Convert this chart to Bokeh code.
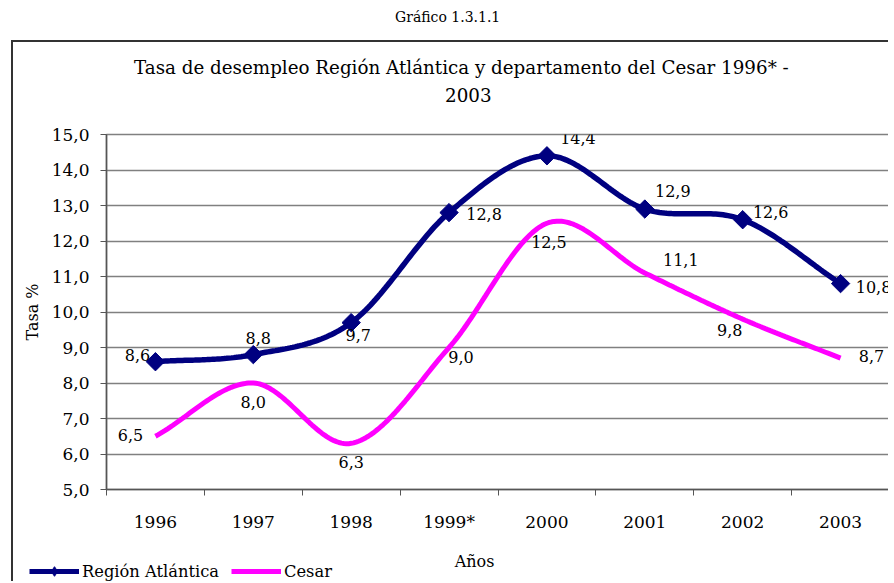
import math
import numpy as np
from bokeh.plotting import figure
from bokeh.models import (FixedTicker, Legend, LegendItem, ColumnDataSource, Div, Label)
from bokeh.layouts import column
from bokeh.core.properties import value
from bokeh.embed import file_html
from bokeh.resources import INLINE

# ---- data ----
years = ["1996", "1997", "1998", "1999*", "2000", "2001", "2002", "2003"]
region_atlantica = [8.6, 8.8, 9.7, 12.8, 14.4, 12.9, 12.6, 10.8]
cesar = [6.5, 8.0, 6.3, 9.0, 12.5, 11.1, 9.8, 8.7]
y_ticks = [5, 6, 7, 8, 9, 10, 11, 12, 13, 14, 15]
series_names = ["Región Atlántica", "Cesar"]
title_lines = ["Tasa de desempleo Región Atlántica y departamento del Cesar 1996* -", "2003"]

# label offsets (pixels) for the data labels
atl_dx = [-18, 5, 7, 35, 31, 28, 28, 33]
atl_dy = [-7, -17, 12, 1, -18, -18, -8, 3]
ces_dx = [-25, 0, 0, 12, 2, 36, -13, 31]
ces_dy = [-1, 19, 19, 9, 19, -13, 11, -2]

FONT = "DejaVu Serif"
NAVY = "#000080"
MAG = "#FF00FF"
BORDER = "2px solid #333333"
W = 877


def smooth(vals, n=40):
    y = np.asarray(vals, dtype=float)
    k = len(y)
    m = np.empty(k)
    m[1:-1] = (y[2:] - y[:-2]) / 2.0
    m[0] = y[1] - y[0]
    m[-1] = y[-1] - y[-2]
    xs, ys = [], []
    for i in range(k - 1):
        t = np.linspace(0, 1, n, endpoint=(i == k - 2))
        h00 = 2 * t**3 - 3 * t**2 + 1
        h10 = t**3 - 2 * t**2 + t
        h01 = -2 * t**3 + 3 * t**2
        h11 = t**3 - t**2
        xs.append(i + t)
        ys.append(h00 * y[i] + h10 * m[i] + h01 * y[i + 1] + h11 * m[i + 1])
    return np.concatenate(xs), np.concatenate(ys)


def fmt(v):
    return f"{v:.1f}".replace(".", ",")


def no_frame_align(fig):
    if "frame_align" in fig.properties():
        fig.frame_align = False


x_idx = list(range(len(years)))

# ---------------- main chart ----------------
p = figure(width=W, height=422, x_range=(-0.5, 7.5), y_range=(5, 15),
           output_backend="svg", toolbar_location=None,
           min_border_left=93, min_border_right=1, min_border_top=22,
           min_border_bottom=42)
p.styles = {"border-left": BORDER}
no_frame_align(p)

p.outline_line_color = "#808080"
p.outline_line_width = 1.5
p.background_fill_color = "white"
p.border_fill_color = "white"

p.xgrid.grid_line_color = None
p.ygrid.ticker = FixedTicker(ticks=y_ticks)
p.ygrid.grid_line_color = "#808080"
p.ygrid.grid_line_width = 1.5

p.yaxis.ticker = FixedTicker(ticks=y_ticks)
p.yaxis.major_label_overrides = {t: fmt(t) for t in y_ticks}
p.yaxis.axis_label = "Tasa %"
p.yaxis.axis_label_text_font = FONT
p.yaxis.axis_label_text_font_style = "normal"
p.yaxis.axis_label_text_font_size = "16px"
p.yaxis.axis_label_text_color = "black"
p.yaxis.axis_label_standoff = 7
p.yaxis.major_label_text_font = FONT
p.yaxis.major_label_text_font_size = "17px"
p.yaxis.major_label_text_color = "black"
p.yaxis.major_label_standoff = 11
p.yaxis.major_tick_out = 6
p.yaxis.major_tick_in = 0
p.yaxis.minor_tick_line_color = None
p.yaxis.axis_line_color = "#555555"
p.yaxis.axis_line_width = 1.5
p.yaxis.major_tick_line_color = "#555555"

p.xaxis.ticker = FixedTicker(ticks=x_idx, minor_ticks=[i - 0.5 for i in range(len(years) + 1)])
p.xaxis.major_label_overrides = {i: y for i, y in enumerate(years)}
p.xaxis.major_tick_out = 0
p.xaxis.major_tick_in = 0
p.xaxis.minor_tick_out = 6
p.xaxis.minor_tick_in = 0
p.xaxis.minor_tick_line_color = "#555555"
p.xaxis.axis_line_color = "#555555"
p.xaxis.axis_line_width = 1.5
p.xaxis.major_label_text_font = FONT
p.xaxis.major_label_text_font_size = "17px"
p.xaxis.major_label_text_color = "black"
p.xaxis.major_label_standoff = 16

cx, cy = smooth(cesar)
ax, ay = smooth(region_atlantica)
p.line(cx, cy, line_color=MAG, line_width=5)
p.line(ax, ay, line_color=NAVY, line_width=5.5)
p.scatter(x_idx, region_atlantica, marker="square", angle=math.pi / 4, size=13,
          fill_color=NAVY, line_color=NAVY)

src_a = ColumnDataSource(dict(x=x_idx, y=region_atlantica,
                              t=[fmt(v) for v in region_atlantica], dx=atl_dx, dy=atl_dy))
src_c = ColumnDataSource(dict(x=x_idx, y=cesar, t=[fmt(v) for v in cesar],
                              dx=ces_dx, dy=ces_dy))
for s in (src_a, src_c):
    p.text(x="x", y="y", text="t", x_offset="dx", y_offset="dy", source=s,
           text_font=value(FONT), text_font_size="16px", text_color="black",
           text_align="center", text_baseline="middle")

# ---------------- bottom strip: axis title + legend ----------------
LH = 47
lf = figure(width=W, height=LH, x_range=(0, 1), y_range=(0, 1),
            output_backend="svg", toolbar_location=None,
            x_axis_location=None, y_axis_location=None,
            min_border=0, min_border_left=0, min_border_right=0,
            min_border_top=0, min_border_bottom=0)
lf.grid.visible = False
lf.outline_line_color = None
lf.styles = {"border-left": BORDER}
no_frame_align(lf)

# legend renderers carry the series (outside the strip's visible range)
la = lf.line(x_idx, region_atlantica, line_color=NAVY, line_width=5)
lm = lf.scatter(x_idx, region_atlantica, marker="diamond", size=12,
                fill_color=NAVY, line_color=NAVY)
lc = lf.line(x_idx, cesar, line_color=MAG, line_width=5)
legend = Legend(items=[LegendItem(label=series_names[0], renderers=[la, lm]),
                       LegendItem(label=series_names[1], renderers=[lc])],
                orientation="horizontal", location=(16, -2),
                label_text_font=FONT, label_text_font_size="16.3px",
                label_text_color="black",
                glyph_width=50, glyph_height=24, label_standoff=3, spacing=12,
                padding=0, margin=0, border_line_color=None,
                background_fill_alpha=0, label_height=20)
lf.add_layout(legend, "center")
lf.add_layout(Label(x=0.5, y=20 / LH, x_offset=460 - (W - 2) / 2, text="Años", text_font=FONT,
                    text_font_size="16px", text_color="black", text_align="center",
                    text_baseline="middle"))

# ---------------- titles ----------------
title_div = Div(
    text=(f'<div style="font-family:\'{FONT}\';font-size:18.3px;line-height:28px;'
          'color:black;padding-top:12px;white-space:nowrap;">'
          f'<div style="padding-left:121px;">{title_lines[0]}</div>'
          f'<div style="padding-left:432px;">{title_lines[1]}</div></div>'),
    width=W, height=72, margin=0,
    styles={"border-left": BORDER, "border-top": BORDER})

head = Div(text=(f'<div style="padding-top:7px;padding-left:395px;white-space:nowrap;'
                 f'font-family:\'{FONT}\';font-size:14px;color:black;">Gráfico 1.3.1.1</div>'),
           width=878, height=40, margin=0)

layout = column(head, column(title_div, p, lf, margin=(0, 0, 0, 11)), margin=0)
open("out.html", "w").write(file_html(layout, INLINE))
